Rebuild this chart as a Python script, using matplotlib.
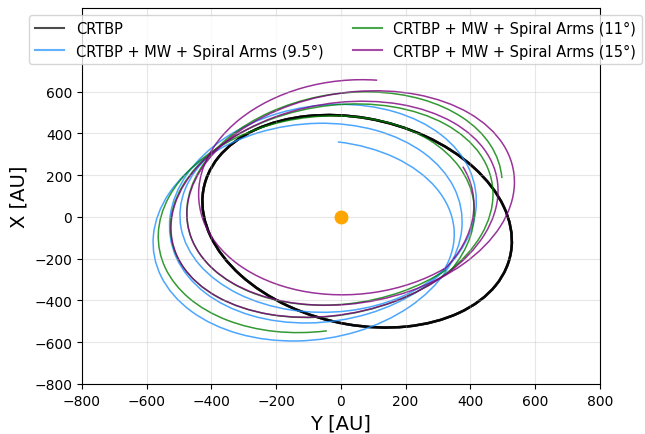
import numpy as np
import matplotlib
matplotlib.use("Agg")
import matplotlib.pyplot as plt
from matplotlib.patches import Arc
from matplotlib.lines import Line2D

# Points traced off the orbits, (Y, X) in AU, in clockwise order.
# Every perturbed loop passes through the same crossing point P.
P = (321, -250)

crtbp_pts = [(-411, -12), (-229, -379), (68, -527), (408, -409), (531, -107),
             (460, 180), (275, 356), (-136, 480), (-241, 432), (-343, 356), (-426, 70)]

# each segment: fit points, start, end (None -> closed loop)
blue_segments = [
    dict(fit=[(-9, 361), (173, 275), (306, 118), (346, 3), (343, -140), P,
              (-127, -560), (-540, -12)],
         start=(-9, 361), end=P),
    dict(fit=[P, (19, -552), (-188, -594), (-395, -537), (-528, -332), (-565, -107),
              (-562, -12), (-528, 150), (-417, 300), (0, 428), (377, 70), (361, -155)],
         start=None, end=None),
    dict(fit=[P, (-127, -504), (-531, -12), (-503, 150), (-408, 300), (0, 545),
              (408, 60), (383, -155)], start=None, end=None),
    dict(fit=[P, (-127, -450), (-497, -12), (-479, 150), (-398, 300), (0, 490), (400, 60)],
         start=P, end=(-398, 300)),
]

green_segments = [
    dict(fit=[(-43, -552), (-219, -547), (-405, -456), (-550, -60), (-556, -12),
              (-522, 150), (-414, 300), (0, 475), (420, 70), (389, -155), P],
         start=(-43, -552), end=P),
    dict(fit=[P, (-127, -485), (-519, -12), (-494, 150), (-405, 300), (0, 538),
              (466, 90), (420, -155)], start=None, end=None),
    dict(fit=[P, (-127, -418), (-476, -12), (-463, 150), (-392, 300), (0, 600),
              (429, 370), (513, 189)],
         start=P, end=(513, 189)),
]

purple_segments = [
    dict(fit=[(377, 241), (408, 98), (398, -74), (352, -188), P,
              (-127, -500), (-510, -12), (0, 500)],
         start=(377, 241), end=P),
    dict(fit=[P, (-127, -485), (-516, -12), (-491, 150), (-405, 300), (0, 548),
              (482, 110), (429, -155)], start=None, end=None),
    dict(fit=[P, (-127, -420), (-473, -12), (-460, 150), (-392, 300), (0, 595),
              (528, 155), (460, -155)], start=None, end=None),
    dict(fit=[P, (173, -331), (-34, -370), (-136, -356), (-343, -204), (-420, 70),
              (-395, 356), (-312, 480), (-210, 561), (0, 633), (114, 667)],
         start=P, end=(114, 667)),
]

labels = ['CRTBP', 'CRTBP + MW + Spiral Arms (9.5°)',
          'CRTBP + MW + Spiral Arms (11°)', 'CRTBP + MW + Spiral Arms (15°)']
colors = ['black', 'dodgerblue', 'green', 'purple']


def fit_ellipse(pts):
    p = np.asarray(pts, float) / 1000.0
    u, v = p[:, 0], p[:, 1]
    M = np.column_stack([u * u, u * v, v * v, u, v])
    a, b, c, d, e = np.linalg.lstsq(M, np.ones(len(p)), rcond=None)[0]
    cen = np.linalg.solve([[2 * a, b], [b, 2 * c]], [-d, -e])
    F = a * cen[0] ** 2 + b * cen[0] * cen[1] + c * cen[1] ** 2 + d * cen[0] + e * cen[1]
    Q = np.array([[a, b / 2], [b / 2, c]]) / (1 - F)
    vals, vecs = np.linalg.eigh(Q)
    semi = 1 / np.sqrt(vals)
    ang = np.degrees(np.arctan2(vecs[1, 0], vecs[0, 0]))
    return cen * 1000, semi * 1000, ang


def angle_on(pt, cen, ang):
    t = np.radians(ang)
    dx, dy = pt[0] - cen[0], pt[1] - cen[1]
    u = dx * np.cos(t) + dy * np.sin(t)
    v = -dx * np.sin(t) + dy * np.cos(t)
    return np.degrees(np.arctan2(v, u))


def draw_segment(ax, seg, color, lw, alpha):
    cen, semi, ang = fit_ellipse(seg['fit'])
    if seg['start'] is None:
        t1, t2 = 0, 360
    else:
        # clockwise from start to end == counter-clockwise from end to start
        t1 = angle_on(seg['end'], cen, ang)
        t2 = angle_on(seg['start'], cen, ang)
    ax.add_patch(Arc(cen, 2 * semi[0], 2 * semi[1], angle=ang, theta1=t1, theta2=t2,
                     color=color, lw=lw, alpha=alpha))


fig = plt.figure(figsize=(6.45, 4.35), dpi=100)
ax = fig.add_axes([0.127, 0.115, 0.803, 0.864])

for k in range(3):
    draw_segment(ax, dict(fit=crtbp_pts, start=None, end=None), 'black', 1.8, 0.7)
for segs, col in zip([blue_segments, green_segments, purple_segments], colors[1:]):
    for seg in segs:
        draw_segment(ax, seg, col, 1.1, 0.8)

ax.plot(0, 0, 'o', color='orange', markersize=9, zorder=5)

ax.set_xlim(-800, 800)
ax.set_ylim(-800, 1000)
ax.set_xticks(np.arange(-800, 801, 200))
ax.set_yticks(np.arange(-800, 601, 200))
ax.grid(True, alpha=0.3)
ax.set_xlabel('Y [AU]', fontsize=14)
ax.set_ylabel('X [AU]', fontsize=14)

handles = [Line2D([], [], color=c, lw=1.5, alpha=0.7) for c in colors]
ax.legend(handles, labels, ncol=2, loc='upper center', bbox_to_anchor=(0.49, 1.0),
          fontsize=10.5)

fig.savefig('out.png', dpi=100)
